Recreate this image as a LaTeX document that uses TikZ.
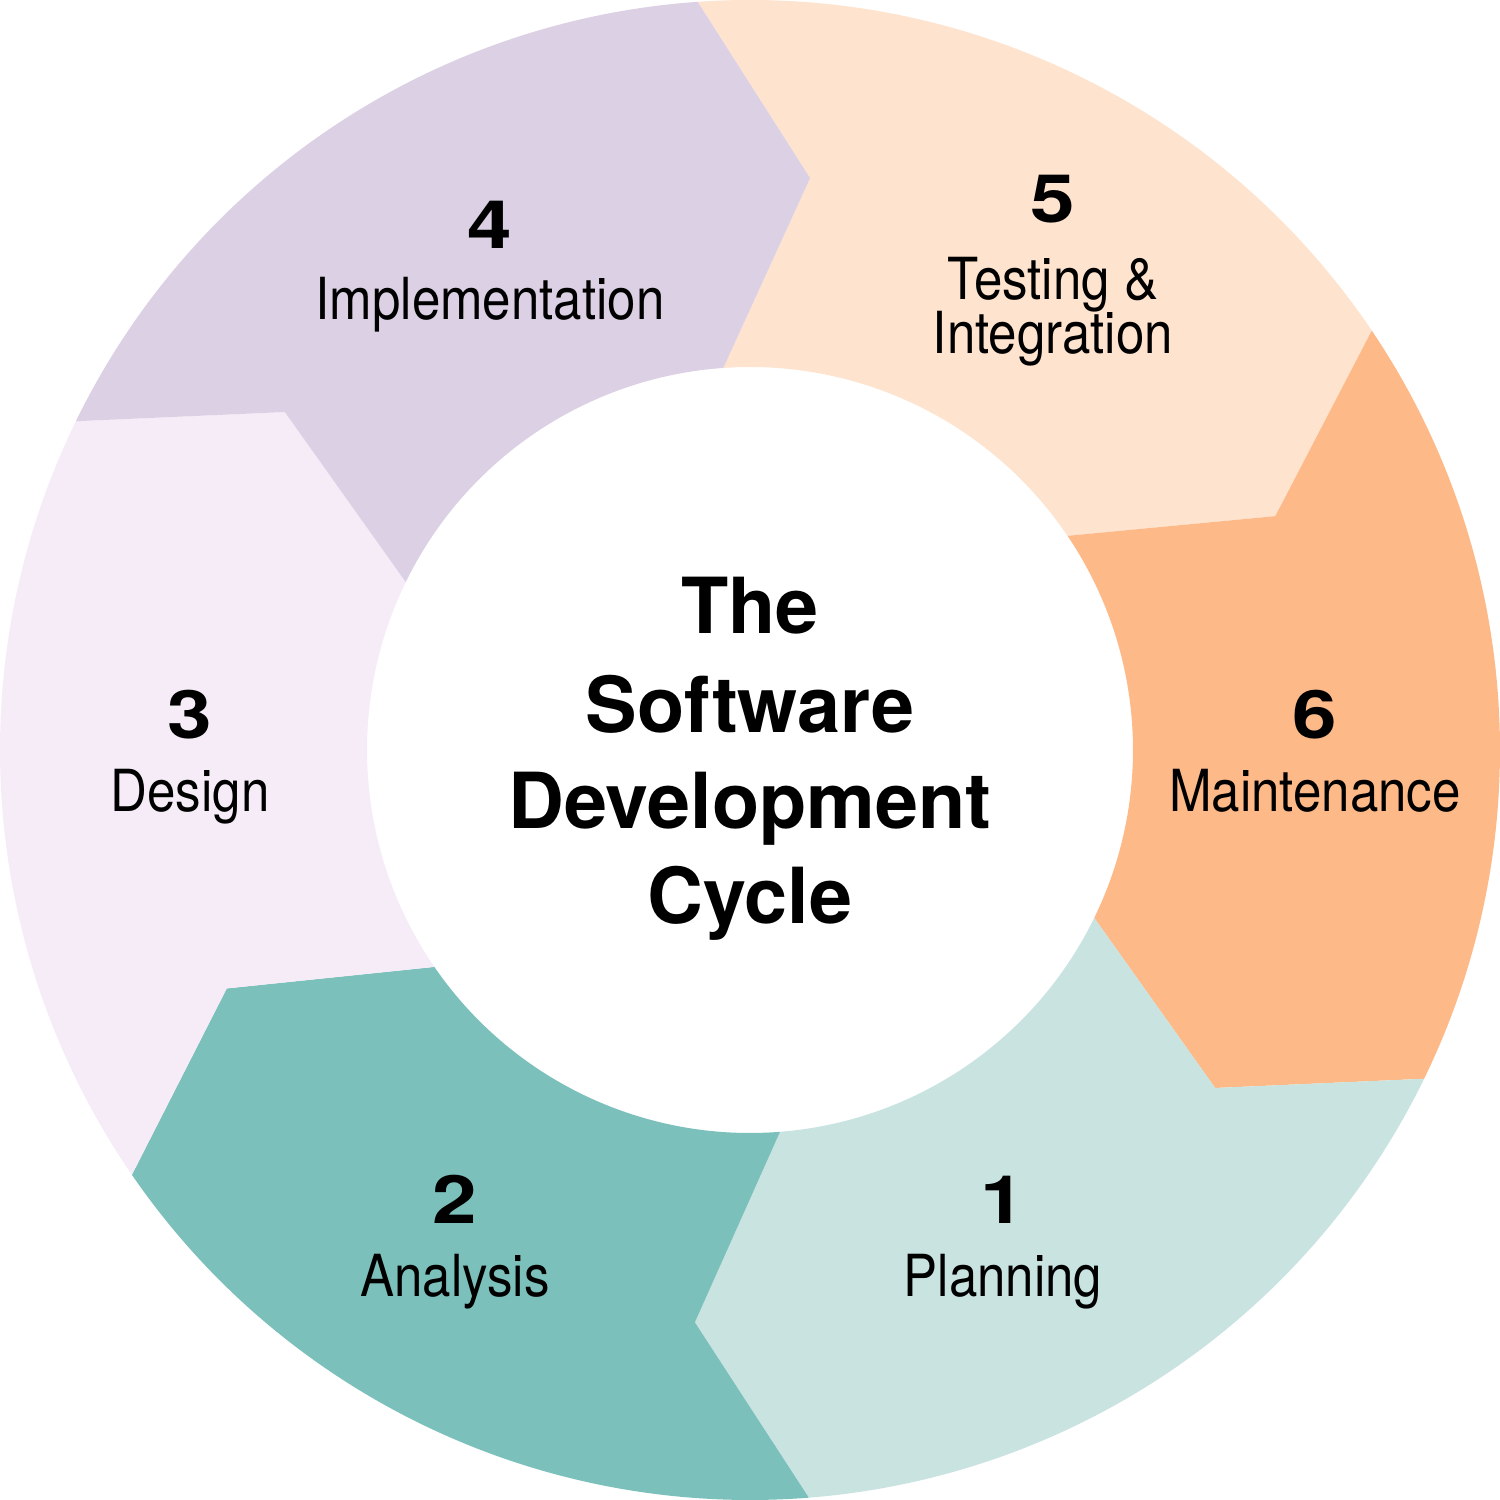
\documentclass[tikz,border=0pt]{standalone}
\usepackage{fontspec}
\setmainfont{TeX Gyre Heros}
\newfontfamily\lblfont[FakeStretch=0.88]{TeX Gyre Heros}
\newfontfamily\numfont[FakeStretch=1.2]{TeX Gyre Heros}
\definecolor{cplan}{HTML}{C9E3E1}
\definecolor{cana}{HTML}{7CC0BB}
\definecolor{cdes}{HTML}{F5ECF8}
\definecolor{cimp}{HTML}{DCD0E4}
\definecolor{ctest}{HTML}{FEE3CE}
\definecolor{cmaint}{HTML}{FDBA88}
% #1 start angle, #2 end angle (clockwise), #3 colour
\newcommand\sdcseg[3]{\fill[#3] (#1:7.5) arc[start angle=#1, end angle=#2, radius=7.5] -- (#2-10:5.75) -- (#2:3.83) arc[start angle=#2, end angle=#1, radius=3.83] -- (#1-10:5.75) -- cycle;}
\begin{document}
\begin{tikzpicture}[
  num/.style={anchor=base, inner sep=0pt, font=\numfont\bfseries\fontsize{19}{22}\selectfont},
  lbl/.style={anchor=base, inner sep=0pt, font=\lblfont\fontsize{16.5}{20}\selectfont},
  ttl/.style={anchor=base, inner sep=0pt, font=\bfseries\fontsize{22}{27}\selectfont}
]
\useasboundingbox[fill=white] (-7.5,-7.5) rectangle (7.5,7.5);
\sdcseg{94}{34}{ctest}
\sdcseg{34}{-26}{cmaint}
\sdcseg{-26}{-85.5}{cplan}
\sdcseg{-85.5}{-145.5}{cana}
\sdcseg{-145.5}{-206}{cdes}
\sdcseg{154}{94}{cimp}
% labels
\node[num] (n1) at (2.53,-4.73) {1};
\node[lbl] (l1) at (2.53,-5.46) {Planning};
\node[num] (n2) at (-2.95,-4.73) {2};
\node[lbl] (l2) at (-2.95,-5.46) {Analysis};
\node[num] (n3) at (-5.60,0.12) {3};
\node[lbl] (l3) at (-5.60,-0.61) {Design};
\node[num] (n4) at (-2.60,5.02) {4};
\node[lbl] (l4) at (-2.60,4.31) {Implementation};
\node[num] (n5) at (3.03,5.27) {5};
\node[lbl] (l5a) at (3.03,4.51) {Testing \&};
\node[lbl] (l5b) at (3.03,3.96) {Integration};
\node[num] (n6) at (5.65,0.12) {6};
\node[lbl] (l6) at (5.65,-0.61) {Maintenance};
% title
\node[ttl] (t1) at (0,1.17) {The};
\node[ttl] (t2) at (0,0.18) {Software};
\node[ttl] (t3) at (0,-0.78) {Development};
\node[ttl] (t4) at (0,-1.73) {Cycle};
\end{tikzpicture}
\end{document}
